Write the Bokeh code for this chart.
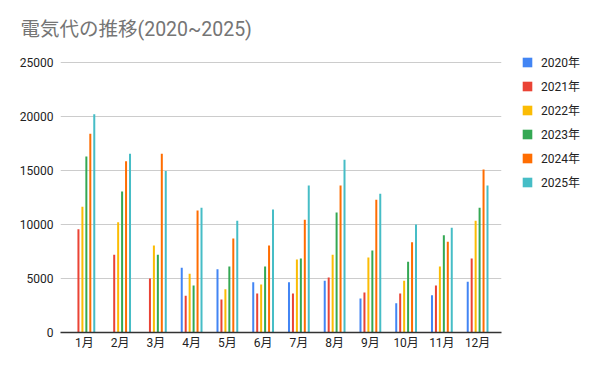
import math
from bokeh.plotting import figure
from bokeh.models import FactorRange, Range1d, Legend, LegendItem, ColumnDataSource, SingleIntervalTicker
from bokeh.transform import dodge
from bokeh.embed import file_html
from bokeh.resources import INLINE

nan = float("nan")
months = ["1月", "2月", "3月", "4月", "5月", "6月", "7月", "8月", "9月", "10月", "11月", "12月"]
years = ["2020年", "2021年", "2022年", "2023年", "2024年", "2025年"]
v2020 = [nan, nan, nan, 6000, 5850, 4650, 4650, 4800, 3150, 2700, 3450, 4700]
v2021 = [9550, 7200, 5000, 3400, 3050, 3600, 3600, 5100, 3700, 3600, 4350, 6850]
v2022 = [11650, 10200, 8050, 5450, 4000, 4450, 6750, 7200, 6950, 4800, 6100, 10350]
v2023 = [16300, 13050, 7200, 4350, 6100, 6100, 6850, 11100, 7600, 6550, 9000, 11550]
v2024 = [18400, 15850, 16550, 11300, 8700, 8050, 10450, 13600, 12300, 8350, 8400, 15100]
v2025 = [20200, 16550, 14950, 11550, 10350, 11400, 13600, 16000, 12850, 10000, 9700, 13600]
series = [v2020, v2021, v2022, v2023, v2024, v2025]
colors = ["#4285F4", "#EA4335", "#FBBC04", "#34A853", "#FF6D01", "#46BDC6"]

FONT = "Roboto, 'Noto Sans CJK JP'"

p = figure(
    x_range=FactorRange(factors=months, range_padding=0.168, range_padding_units="absolute"),
    y_range=Range1d(0, 25740.7),
    frame_width=441, frame_height=278,
    output_backend="svg", toolbar_location=None,
    min_border_left=60, min_border_right=99, min_border_top=54, min_border_bottom=37,
    title="電気代の推移(2020~2025)",
)
p.outline_line_color = None
p.background_fill_color = "white"
p.border_fill_color = "white"

p.title.text_font = FONT
p.title.text_font_size = "19.5px"
p.title.text_font_style = "normal"
p.title.text_color = "#757575"
p.title.align = "left"
p.title.offset = -40
p.title.standoff = 28

step = 0.1106
renderers = []
for i, (yr, vals, c) in enumerate(zip(years, series, colors)):
    src = ColumnDataSource(dict(month=months, val=vals))
    r = p.vbar(x=dodge("month", (i - 2.5) * step, range=p.x_range), top="val", width=0.056,
               source=src, fill_color=c, line_color=None)
    renderers.append(r)

p.xgrid.grid_line_color = None
p.ygrid.grid_line_color = "#cccccc"
p.ygrid.grid_line_width = 1
p.yaxis.ticker = SingleIntervalTicker(interval=5000)
p.yaxis.axis_line_color = None
p.yaxis.major_tick_line_color = None
p.yaxis.minor_tick_line_color = None
p.yaxis.major_tick_out = 0
p.yaxis.minor_tick_out = 0
p.yaxis.major_label_text_font = FONT
p.yaxis.major_label_text_font_size = "12px"
p.yaxis.major_label_text_color = "#222222"
p.yaxis.major_label_standoff = 7

p.xaxis.axis_line_color = "#333333"
p.xaxis.axis_line_width = 1.5
p.xaxis.major_tick_line_color = None
p.xaxis.minor_tick_line_color = None
p.xaxis.major_tick_out = 0
p.xaxis.minor_tick_out = 0
p.xaxis.major_label_text_font = FONT
p.xaxis.major_label_text_font_size = "12px"
p.xaxis.major_label_text_color = "#222222"
p.xaxis.major_label_standoff = 3

legend = Legend(
    items=[LegendItem(label=yr, renderers=[r]) for yr, r in zip(years, renderers)],
    location=(20, 142),
    glyph_width=12, glyph_height=12, label_height=12, spacing=7,
    label_standoff=8, padding=0, margin=0,
    border_line_color=None, background_fill_alpha=0,
    label_text_font=FONT, label_text_font_size="12px", label_text_color="#222222",
)
p.add_layout(legend, "right")

open("out.html", "w").write(file_html(p, INLINE))
